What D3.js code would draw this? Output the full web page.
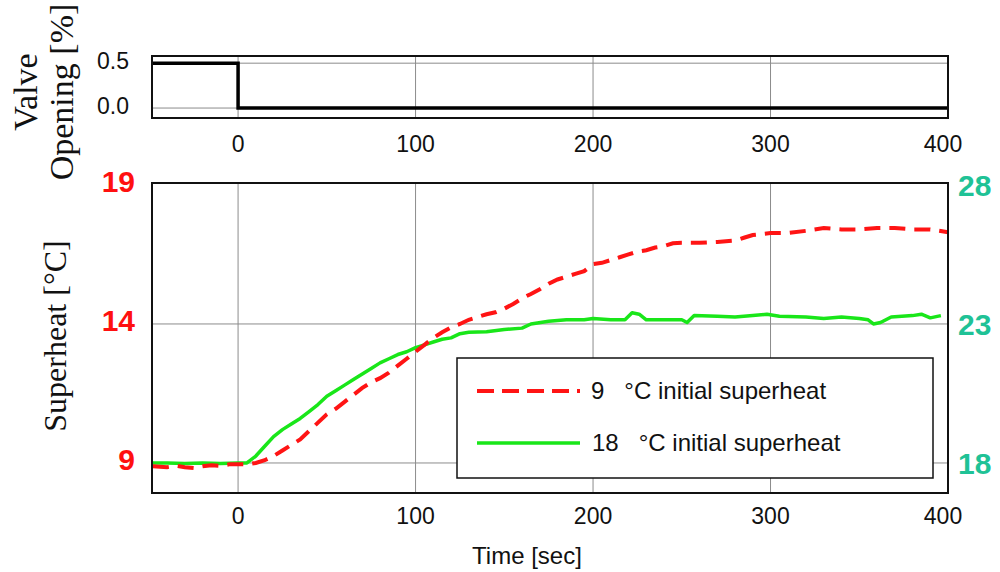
<!DOCTYPE html>
<html>
<head>
<meta charset="utf-8">
<script src="https://cdn.jsdelivr.net/npm/d3@7"></script>
<style>
  body { margin: 0; background: #fff; }
  .grid { stroke: #8c8c8c; stroke-width: 1; }
  .tick-lab { font-family: "Liberation Sans", Arial, sans-serif; font-size: 23px; fill: #111; }
</style>
</head>
<body>
<div id="chart"></div>
<script>

// valve step
var valveTime = [-48.5, 0, 0, 400];
var valveOpen = [0.5, 0.5, 0, 0];

// 9 C initial superheat (left axis)
var redTime = [-48, -40, -35, -30, -25, -20, -15, -10, -5, 0, 5, 10, 15, 20, 25, 30, 35, 40, 45, 50,
  55, 60, 65, 70, 75, 80, 85, 90, 95, 100, 105, 110, 115, 120, 125, 130, 135, 140, 145, 150,
  155, 160, 165, 170, 175, 180, 185, 190, 195, 200, 205, 210, 215, 220, 225, 230, 235, 240, 245, 250,
  260, 270, 280, 285, 290, 300, 310, 320, 330, 340, 350, 360, 370, 380, 390, 400];
var redSH = [8.88, 8.85, 8.9, 8.85, 8.82, 8.88, 8.92, 8.9, 8.95, 8.95, 8.95, 9.0, 9.1, 9.25, 9.45, 9.65, 9.85, 10.15, 10.45, 10.75,
  10.95, 11.2, 11.45, 11.7, 11.9, 12.05, 12.25, 12.5, 12.75, 13.0, 13.25, 13.5, 13.7, 13.88, 14.0, 14.15, 14.25, 14.35, 14.42, 14.55,
  14.72, 14.92, 15.08, 15.25, 15.45, 15.6, 15.7, 15.8, 15.9, 16.15, 16.2, 16.3, 16.4, 16.5, 16.6, 16.65, 16.75, 16.8, 16.9, 16.92,
  16.92, 16.95, 17.0, 17.1, 17.2, 17.27, 17.27, 17.35, 17.45, 17.4, 17.4, 17.45, 17.45, 17.4, 17.4, 17.3];

// 18 C initial superheat (right axis)
var greenTime = [-48, -40, -30, -20, -10, 0, 5, 10, 15, 20, 25, 30, 35, 40, 45, 50, 55, 60, 65, 70,
  75, 80, 85, 90, 95, 100, 105, 110, 115, 120, 125, 130, 140, 150, 160, 165, 175, 185, 195, 200,
  210, 218, 222, 226, 230, 240, 250, 253, 257, 270, 280, 290, 298, 305, 320, 330, 340, 350, 355, 358,
  362, 368, 380, 385, 390, 396];
var greenSH = [18.0, 18.0, 17.98, 18.0, 17.98, 18.0, 18.0, 18.25, 18.6, 18.95, 19.2, 19.4, 19.6, 19.85, 20.1, 20.4, 20.6, 20.8, 21.0, 21.2,
  21.4, 21.6, 21.75, 21.9, 22.0, 22.15, 22.25, 22.35, 22.45, 22.5, 22.65, 22.7, 22.72, 22.8, 22.85, 23.0, 23.1, 23.15, 23.15, 23.2,
  23.15, 23.15, 23.4, 23.35, 23.15, 23.15, 23.15, 23.05, 23.3, 23.28, 23.25, 23.3, 23.35, 23.28, 23.25, 23.2, 23.25, 23.2, 23.15, 23.0,
  23.05, 23.25, 23.3, 23.35, 23.22, 23.3];

var xTicks = [0, 100, 200, 300, 400];
var valveTicks = [0.5, 0.0];
var leftTicks = [9, 14, 19];
var rightTicks = [18, 23, 28];
var legendLabels = ["9   \u00b0C initial superheat", "18   \u00b0C initial superheat"];

var width = 1000, height = 572;
var left = 152, right = 948;

var svg = d3.select("#chart").append("svg")
    .attr("width", width)
    .attr("height", height);

var x = d3.scaleLinear().domain([-48.5, 400]).range([left, right]);

// ---------- top panel: valve opening
var topY0 = 56, topY1 = 118;
var yValve = d3.scaleLinear().domain([-0.111, 0.58]).range([topY1, topY0]);

var topPanel = svg.append("g");
topPanel.selectAll(".vg")
    .data(xTicks.slice(0, 4))
  .enter().append("line")
    .attr("class", "grid")
    .attr("x1", function(d) { return x(d); })
    .attr("x2", function(d) { return x(d); })
    .attr("y1", topY0).attr("y2", topY1);
topPanel.selectAll(".hg")
    .data(valveTicks)
  .enter().append("line")
    .attr("class", "grid")
    .attr("x1", left).attr("x2", right)
    .attr("y1", function(d) { return yValve(d); })
    .attr("y2", function(d) { return yValve(d); });

topPanel.append("path")
    .datum(d3.range(valveTime.length))
    .attr("fill", "none")
    .attr("stroke", "#000")
    .attr("stroke-width", 3.5)
    .attr("d", d3.line()
        .x(function(i) { return x(valveTime[i]); })
        .y(function(i) { return yValve(valveOpen[i]); }));

topPanel.append("rect")
    .attr("x", left).attr("y", topY0)
    .attr("width", right - left).attr("height", topY1 - topY0)
    .attr("fill", "none").attr("stroke", "#111").attr("stroke-width", 2);

topPanel.selectAll(".vt")
    .data(valveTicks)
  .enter().append("text")
    .attr("class", "tick-lab")
    .attr("x", 129)
    .attr("y", function(d) { return yValve(d) - 2; })
    .attr("dy", "0.35em")
    .attr("text-anchor", "end")
    .text(function(d) { return d3.format(".1f")(d); });

topPanel.selectAll(".xt")
    .data(xTicks)
  .enter().append("text")
    .attr("class", "tick-lab")
    .attr("x", function(d) { return x(d) - (d == 400 ? 5 : 0); })
    .attr("y", 144)
    .attr("dy", "0.35em")
    .attr("text-anchor", "middle")
    .text(function(d) { return d; });

// valve title, two lines rotated
var vt = svg.append("text")
    .attr("transform", "translate(37,92) rotate(-90)")
    .attr("text-anchor", "middle")
    .style("font-family", "'Liberation Serif', 'Times New Roman', serif")
    .style("font-size", "34px")
    .style("fill", "#111");
vt.append("tspan").attr("x", 0).attr("y", 0).text("Valve");
vt.append("tspan").attr("x", 0).attr("y", 36).text("Opening [%]");

// ---------- main panel: superheat
var mainY0 = 183, mainY1 = 493;
var yL = d3.scaleLinear().domain([7.92, 19.07]).range([mainY1, mainY0]);
var yR = d3.scaleLinear().domain([16.92, 28.07]).range([mainY1, mainY0]);

var main = svg.append("g");
main.selectAll(".vg")
    .data(xTicks.slice(0, 4))
  .enter().append("line")
    .attr("class", "grid")
    .attr("x1", function(d) { return x(d); })
    .attr("x2", function(d) { return x(d); })
    .attr("y1", mainY0).attr("y2", mainY1);
main.selectAll(".hg")
    .data(leftTicks.slice(0, 2))
  .enter().append("line")
    .attr("class", "grid")
    .attr("x1", left).attr("x2", right)
    .attr("y1", function(d) { return yL(d); })
    .attr("y2", function(d) { return yL(d); });

// add in the lines
main.append("path")
    .datum(d3.range(greenTime.length))
    .attr("fill", "none")
    .attr("stroke", "#19e619")
    .attr("stroke-width", 3.5)
    .attr("stroke-linejoin", "round")
    .attr("d", d3.line()
        .x(function(i) { return x(greenTime[i]); })
        .y(function(i) { return yR(greenSH[i]); }));

main.append("path")
    .datum(d3.range(redTime.length))
    .attr("fill", "none")
    .attr("stroke", "#ff1414")
    .attr("stroke-width", 4)
    .attr("stroke-dasharray", "16,9")
    .attr("d", d3.line()
        .x(function(i) { return x(redTime[i]); })
        .y(function(i) { return yL(redSH[i]); }));

// legend
var lg = main.append("g");
lg.append("rect")
    .attr("x", 457).attr("y", 358)
    .attr("width", 476).attr("height", 120)
    .attr("fill", "#fff").attr("stroke", "#111").attr("stroke-width", 1.5);
lg.append("line")
    .attr("x1", 477).attr("x2", 580).attr("y1", 391).attr("y2", 391)
    .attr("stroke", "#ff1414").attr("stroke-width", 4).attr("stroke-dasharray", "17,8");
lg.append("line")
    .attr("x1", 477).attr("x2", 580).attr("y1", 443).attr("y2", 443)
    .attr("stroke", "#19e619").attr("stroke-width", 3.5);
lg.selectAll("text")
    .data(legendLabels)
  .enter().append("text")
    .attr("x", function(d, i) { return i == 0 ? 591 : 592; })
    .attr("y", function(d, i) { return i == 0 ? 391 : 443; })
    .attr("dy", "0.35em")
    .style("font-family", "'Liberation Sans', Arial, sans-serif")
    .style("font-size", "24px")
    .style("fill", "#111")
    .style("white-space", "pre")
    .text(function(d) { return d; });

main.append("rect")
    .attr("x", left).attr("y", mainY0)
    .attr("width", right - left).attr("height", mainY1 - mainY0)
    .attr("fill", "none").attr("stroke", "#111").attr("stroke-width", 2);

main.selectAll(".lt")
    .data(leftTicks)
  .enter().append("text")
    .attr("x", 135)
    .attr("y", function(d) { return yL(d) - 3; })
    .attr("dy", "0.35em")
    .attr("text-anchor", "end")
    .style("font-family", "'Liberation Sans', Arial, sans-serif")
    .style("font-size", "30px")
    .style("font-weight", "bold")
    .style("fill", "#ff1010")
    .text(function(d) { return d; });

main.selectAll(".rt")
    .data(rightTicks)
  .enter().append("text")
    .attr("x", 958)
    .attr("y", function(d) { return yR(d) + 1; })
    .attr("dy", "0.35em")
    .style("font-family", "'Liberation Sans', Arial, sans-serif")
    .style("font-size", "30px")
    .style("font-weight", "bold")
    .style("fill", "#1fc296")
    .text(function(d) { return d; });

main.selectAll(".xt")
    .data(xTicks)
  .enter().append("text")
    .attr("class", "tick-lab")
    .attr("x", function(d) { return x(d) - (d == 400 ? 5 : 0); })
    .attr("y", 516)
    .attr("dy", "0.35em")
    .attr("text-anchor", "middle")
    .text(function(d) { return d; });

svg.append("text")
    .attr("transform", "translate(66,336) rotate(-90)")
    .attr("text-anchor", "middle")
    .style("font-family", "'Liberation Serif', 'Times New Roman', serif")
    .style("font-size", "32px")
    .style("fill", "#111")
    .text("Superheat [\u00b0C]");

svg.append("text")
    .attr("x", 527).attr("y", 556)
    .attr("dy", "0.35em")
    .attr("text-anchor", "middle")
    .style("font-family", "'Liberation Sans', Arial, sans-serif")
    .style("font-size", "24px")
    .style("fill", "#111")
    .text("Time [sec]");

</script>
</body>
</html>
